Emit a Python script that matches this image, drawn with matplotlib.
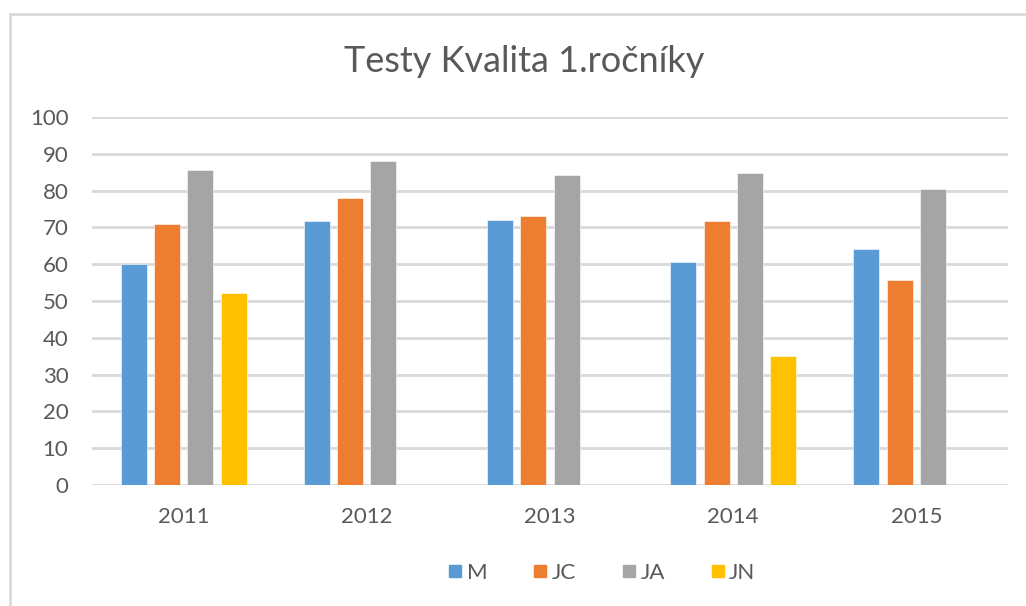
import matplotlib
matplotlib.use("Agg")
import matplotlib.pyplot as plt
import numpy as np
from matplotlib.lines import Line2D
from matplotlib.patches import Rectangle

years = ["2011", "2012", "2013", "2014", "2015"]
series_names = ["M", "JC", "JA", "JN"]
M = [60, 71.8, 72.1, 60.6, 64]
JC = [71, 78, 73.2, 71.8, 55.7]
JA = [85.6, 88.1, 84.3, 84.7, 80.3]
JN = [52.1, np.nan, np.nan, 35, np.nan]
colors = ["#5B9BD5", "#ED7D31", "#A5A5A5", "#FFC000"]
yticks = [0, 10, 20, 30, 40, 50, 60, 70, 80, 90, 100]

plt.rcParams['font.family'] = ['Lato', 'DejaVu Sans']
text_color = "#595959"
grid_color = "#D9D9D9"

fig = plt.figure(figsize=(10.26, 6.06), dpi=100)
W, H = 1026, 606
ax = fig.add_axes([92 / W, 1 - 485 / H, (1008 - 92) / W, (485 - 117) / H])

x = np.arange(len(years))
step = 0.182
width = 0.142
for i, (vals, c) in enumerate(zip([M, JC, JA, JN], colors)):
    ax.bar(x + (i - 1.5) * step, vals, width=width, color=c, zorder=3,
           edgecolor="white", linewidth=0.4)

ax.set_xlim(-0.5, len(years) - 0.5)
ax.set_ylim(0, 100)
ax.set_yticks(yticks)
ax.set_yticklabels([str(t) for t in yticks])
ax.set_xticks(x)
ax.set_xticklabels(years)
ax.tick_params(axis='both', length=0, labelsize=16, colors=text_color)
ax.tick_params(axis='y', pad=17)
ax.tick_params(axis='x', pad=16)
for s in ax.spines.values():
    s.set_visible(False)
ax.yaxis.grid(True, color=grid_color, linewidth=2, zorder=0)
ax.set_axisbelow(True)

fig.text(524 / W, 1 - 62 / H, "Testy Kvalita 1.ročníky", ha="center", va="center",
         fontsize=26, color=text_color)

handles = [Line2D([], [], marker='s', linestyle='none', markersize=9,
                  markerfacecolor=c, markeredgecolor=c) for c in colors]
fig.legend(handles, series_names, loc="center", bbox_to_anchor=(601 / W, 1 - 573 / H),
           ncol=4, frameon=False, fontsize=16, labelcolor=text_color,
           handletextpad=0.1, columnspacing=2.0, handlelength=0.8)

fig.patches.append(Rectangle((10 / W, -0.05), 1.2, 1 - 14 / H + 0.05,
                             transform=fig.transFigure, fill=False,
                             edgecolor=grid_color, linewidth=2))

fig.savefig("out.png", dpi=100, facecolor="white")
